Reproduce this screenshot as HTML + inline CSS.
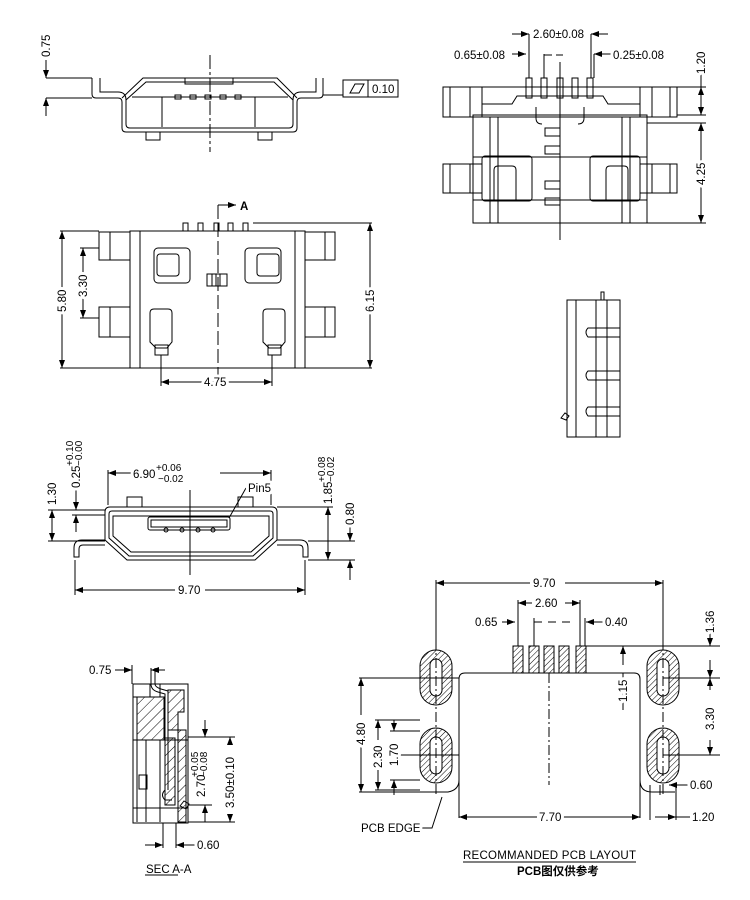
<!DOCTYPE html>
<html><head><meta charset="utf-8"><style>
html,body{margin:0;padding:0;background:#fff}
svg{display:block}
text{font-family:"Liberation Sans","Noto Sans CJK SC",sans-serif;font-size:11.5px;fill:#000;paint-order:stroke;stroke:#fff;stroke-width:6px;stroke-linejoin:round}
text.t{stroke-width:0;font-size:10px}
</style></head><body>
<svg width="750" height="900" viewBox="0 0 750 900" xmlns="http://www.w3.org/2000/svg">
<defs>
<pattern id="h" width="4" height="4" patternUnits="userSpaceOnUse" patternTransform="rotate(45)"><line x1="0" y1="0" x2="0" y2="4" stroke="#000" stroke-width="1"/></pattern>
<pattern id="h2" width="7" height="7" patternUnits="userSpaceOnUse" patternTransform="rotate(45)"><line x1="0" y1="0" x2="0" y2="7" stroke="#000" stroke-width="1"/></pattern>
<marker id="a" markerWidth="8" markerHeight="6" refX="8" refY="3" orient="auto" markerUnits="userSpaceOnUse"><path d="M0,0 L8,3 L0,6 z" fill="#000"/></marker>
</defs>
<g fill="none" stroke="#000" stroke-width="1">

<!-- VIEW 1 front top -->
<line x1="210" y1="55" x2="210" y2="152" stroke-dasharray="14,3,3,3"/>
<path d="M92,78 L92,94 Q92,98 96,98 L118,98 Q122,98 122,102 L122,128 Q122,132 126,132 L293,132 Q297,132 297,128 L297,102 Q297,98 301,98 L319,98 Q323,98 323,94 L323,78"/>
<path d="M100,78 L100,92 L118,92 Q126,92 126,100 L126,124 Q126,128 130,128 L289,128 Q293,128 293,124 L293,100 Q293,92 301,92 L316,92 L316,78"/>
<path d="M122,98 L143,78 L277,78 L297,98"/>
<path d="M126,100 L146,82 L274,82 L293,100"/>
<rect x="185" y="78" width="48" height="6"/>
<line x1="132" y1="97" x2="288" y2="97"/>
<line x1="162" y1="97" x2="162" y2="127"/><line x1="255" y1="97" x2="255" y2="127"/>
<rect x="175" y="95" width="6" height="4"/><rect x="190" y="95" width="6" height="4"/><rect x="205" y="95" width="6" height="4"/><rect x="220" y="95" width="6" height="4"/><rect x="235" y="95" width="6" height="4"/>
<rect x="146" y="132" width="14" height="8"/><rect x="258" y="132" width="14" height="8"/>
<line x1="46" y1="78" x2="92" y2="78"/><line x1="46" y1="98" x2="92" y2="98"/>
<line x1="46" y1="60" x2="46" y2="78" marker-end="url(#a)"/><line x1="46" y1="116" x2="46" y2="98" marker-end="url(#a)"/>
<line x1="323" y1="95" x2="343" y2="95"/>
<rect x="343" y="80" width="55" height="17"/><line x1="368" y1="80" x2="368" y2="97"/>
<path d="M350,93 L355,84 L364,84 L359,93 z"/>

<!-- VIEW 2 top view -->
<rect x="130" y="231" width="175" height="137"/>
<line x1="140" y1="231" x2="140" y2="368"/><line x1="295" y1="231" x2="295" y2="368"/>
<rect x="99" y="232" width="31" height="28"/><line x1="110" y1="232" x2="110" y2="260"/>
<rect x="99" y="307" width="31" height="30"/><line x1="110" y1="307" x2="110" y2="337"/>
<rect x="305" y="232" width="30" height="28"/><line x1="325" y1="232" x2="325" y2="260"/>
<rect x="305" y="307" width="30" height="30"/><line x1="325" y1="307" x2="325" y2="337"/>
<rect x="183" y="223" width="5" height="8"/><rect x="198" y="223" width="5" height="8"/><rect x="214" y="223" width="5" height="8"/><rect x="228" y="223" width="5" height="8"/><rect x="243" y="223" width="5" height="8"/>
<rect x="154" y="248" width="36" height="35" rx="4"/><rect x="157" y="254" width="22" height="22" rx="3"/>
<rect x="245" y="248" width="36" height="35" rx="4"/><rect x="257" y="254" width="22" height="22" rx="3"/>
<rect x="207" y="274" width="20" height="12"/><line x1="212" y1="274" x2="212" y2="286"/><line x1="216" y1="274" x2="216" y2="286"/><line x1="220" y1="274" x2="220" y2="286"/>
<path d="M150,342 L150,313 Q150,309 154,309 L168,309 Q172,309 172,313 L172,342 L167,348 L156,348 z"/><rect x="155" y="345" width="13" height="10"/>
<path d="M263,342 L263,313 Q263,309 267,309 L281,309 Q285,309 285,313 L285,342 L280,348 L269,348 z"/><rect x="268" y="345" width="13" height="10"/>
<line x1="218" y1="205" x2="218" y2="380" stroke-dasharray="14,4"/>
<line x1="218" y1="205" x2="236" y2="205" marker-end="url(#a)"/>
<line x1="60" y1="231" x2="99" y2="231"/><line x1="60" y1="368" x2="130" y2="368"/>
<line x1="62" y1="300" x2="62" y2="231" marker-end="url(#a)"/><line x1="62" y1="300" x2="62" y2="368" marker-end="url(#a)"/>
<line x1="80" y1="248" x2="99" y2="248"/><line x1="80" y1="318" x2="99" y2="318"/>
<line x1="83" y1="283" x2="83" y2="248" marker-end="url(#a)"/><line x1="83" y1="283" x2="83" y2="318" marker-end="url(#a)"/>
<line x1="253" y1="223" x2="372" y2="223"/><line x1="305" y1="368" x2="372" y2="368"/>
<line x1="370" y1="295" x2="370" y2="223" marker-end="url(#a)"/><line x1="370" y1="295" x2="370" y2="368" marker-end="url(#a)"/>
<line x1="161" y1="355" x2="161" y2="386"/><line x1="272" y1="355" x2="272" y2="386"/>
<line x1="216" y1="382" x2="161" y2="382" marker-end="url(#a)"/><line x1="216" y1="382" x2="272" y2="382" marker-end="url(#a)"/>

<!-- VIEW 3 top right -->
<rect x="473" y="115" width="174" height="108"/>
<path d="M482,115 L482,87 L640,87 L640,115"/>
<path d="M482,104 L512,104 L517,96 L603,96 L608,104 L640,104"/>
<rect x="443" y="87" width="39" height="30"/><line x1="450" y1="87" x2="450" y2="117"/><line x1="470" y1="87" x2="470" y2="117"/>
<rect x="443" y="164" width="39" height="29"/><line x1="450" y1="164" x2="450" y2="193"/><line x1="470" y1="164" x2="470" y2="193"/>
<rect x="640" y="87" width="37" height="30"/><line x1="670" y1="87" x2="670" y2="117"/><line x1="652" y1="87" x2="652" y2="117"/>
<rect x="640" y="164" width="37" height="29"/><line x1="670" y1="164" x2="670" y2="193"/><line x1="652" y1="164" x2="652" y2="193"/>
<line x1="482" y1="117" x2="640" y2="117"/>
<line x1="490" y1="117" x2="490" y2="223"/><line x1="498" y1="117" x2="498" y2="223"/><line x1="622" y1="117" x2="622" y2="223"/><line x1="630" y1="117" x2="630" y2="223"/>
<line x1="473" y1="157" x2="647" y2="157"/><line x1="473" y1="200" x2="647" y2="200"/>
<path d="M536,107 L536,118 Q536,124 542,124"/><path d="M584,107 L584,118 Q584,124 578,124"/>
<rect x="482" y="156" width="50" height="45" rx="3"/><path d="M494,200 L494,170 Q494,166 498,166 L512,166 Q516,166 516,170 L516,200"/>
<rect x="590" y="156" width="50" height="45" rx="3"/><path d="M606,200 L606,170 Q606,166 610,166 L624,166 Q628,166 628,170 L628,200"/>
<rect x="526" y="78" width="6" height="20"/><rect x="541" y="78" width="6" height="20"/><rect x="557" y="78" width="6" height="20"/><rect x="572" y="78" width="6" height="20"/><rect x="587" y="78" width="6" height="20"/>
<line x1="560" y1="62" x2="560" y2="240"/>
<path d="M545,128 h15 v8 h-15 z M545,146 h15 v8 h-15 z M545,181 h15 v8 h-15 z M545,198 h15 v7 h-15 z"/>
<line x1="529" y1="34" x2="529" y2="78"/><line x1="591" y1="34" x2="591" y2="78"/>
<line x1="512" y1="34" x2="529" y2="34" marker-end="url(#a)"/><line x1="608" y1="34" x2="591" y2="34" marker-end="url(#a)"/>
<line x1="512" y1="54" x2="526" y2="54" marker-end="url(#a)"/><line x1="544" y1="55" x2="563" y2="55" stroke-dasharray="8,4"/>
<line x1="544" y1="54" x2="544" y2="78"/><line x1="594" y1="54" x2="594" y2="78"/>
<line x1="612" y1="54" x2="594" y2="54" marker-end="url(#a)"/>
<line x1="677" y1="87" x2="706" y2="87"/><line x1="677" y1="115" x2="706" y2="115"/><line x1="647" y1="223" x2="706" y2="223"/><line x1="647" y1="123" x2="706" y2="123"/>
<line x1="701" y1="73" x2="701" y2="87"/><line x1="701" y1="100" x2="701" y2="87" marker-end="url(#a)"/><line x1="701" y1="100" x2="701" y2="115" marker-end="url(#a)"/>
<line x1="701" y1="173" x2="701" y2="123" marker-end="url(#a)"/><line x1="701" y1="173" x2="701" y2="223" marker-end="url(#a)"/>

<!-- VIEW 4 side -->
<rect x="567" y="300" width="53" height="137"/>
<line x1="576" y1="300" x2="576" y2="437"/><line x1="596" y1="300" x2="596" y2="437"/><line x1="607" y1="300" x2="607" y2="437"/>
<rect x="601" y="292" width="3" height="8"/>
<path d="M620,328 L588,328 Q584,332 588,337 L620,337"/>
<path d="M620,371 L588,371 Q584,375 588,380 L620,380"/>
<path d="M620,407 L588,407 Q584,411 588,416 L620,416"/>
<path d="M561,418 l4,-5 l4,3 l-3,4 z"/>

<!-- VIEW 5 front mid -->
<path d="M105,540 L105,512 Q105,507 110,507 L272,507 Q277,507 277,512 L277,540 L255,560 L127,560 z"/>
<path d="M109,538 L109,514 Q109,511 112,511 L270,511 Q273,511 273,514 L273,538 L253,556 L129,556 z"/>
<path d="M113,536 L113,516 L269,516 L269,536 L251,552 L131,552 z"/>
<rect x="148" y="517" width="82" height="13" rx="2"/><rect x="151" y="520" width="76" height="7"/>
<circle cx="166" cy="530" r="2"/><circle cx="182" cy="530" r="2"/><circle cx="198" cy="530" r="2"/><circle cx="213" cy="530" r="2"/>
<rect x="127" y="497" width="15" height="10"/><rect x="238" y="497" width="15" height="10"/>
<path d="M105,540 L82,540 Q74,540 74,548 L74,557 L79,557 L79,549 Q79,545 83,545 L105,545"/>
<path d="M277,540 L300,540 Q308,540 308,548 L308,557 L303,557 L303,549 Q303,545 299,545 L277,545"/>
<line x1="190" y1="490" x2="190" y2="575"/>
<line x1="108" y1="470" x2="108" y2="505"/><line x1="271" y1="470" x2="271" y2="505"/>
<line x1="132" y1="473" x2="108" y2="473" marker-end="url(#a)"/><line x1="220" y1="473" x2="271" y2="473" marker-end="url(#a)"/>
<line x1="246" y1="488" x2="229" y2="518"/>
<line x1="75" y1="560" x2="75" y2="595"/><line x1="305" y1="560" x2="305" y2="595"/>
<line x1="175" y1="590" x2="75" y2="590" marker-end="url(#a)"/><line x1="205" y1="590" x2="305" y2="590" marker-end="url(#a)"/>
<line x1="48" y1="510" x2="105" y2="510"/><line x1="48" y1="541" x2="105" y2="541"/><line x1="72" y1="515" x2="105" y2="515"/>
<line x1="52" y1="525" x2="52" y2="510" marker-end="url(#a)"/><line x1="52" y1="525" x2="52" y2="541" marker-end="url(#a)"/>
<line x1="76" y1="490" x2="76" y2="510" marker-end="url(#a)"/><line x1="76" y1="532" x2="76" y2="515" marker-end="url(#a)"/>
<line x1="277" y1="507" x2="333" y2="507"/><line x1="308" y1="560" x2="355" y2="560"/><line x1="308" y1="541" x2="355" y2="541"/>
<line x1="328" y1="530" x2="328" y2="507" marker-end="url(#a)"/><line x1="328" y1="530" x2="328" y2="560" marker-end="url(#a)"/>
<line x1="350" y1="515" x2="350" y2="541" marker-end="url(#a)"/><line x1="350" y1="580" x2="350" y2="560" marker-end="url(#a)"/>

<!-- VIEW 6 section -->
<rect x="133" y="684" width="55" height="139"/>
<path d="M137,697 L164,697 L164,740 L137,740 z" fill="url(#h2)"/>
<path d="M168,690 L184,690 L184,712 L178,712 L178,730 L168,730 z" fill="url(#h2)"/>
<path d="M178,730 L186,730 L186,822 L178,822 z" fill="url(#h2)"/>
<path d="M165,738 L175,738 L175,805 L165,805 z" fill="url(#h2)"/>
<path d="M133,697 L137,697 M133,740 L188,740 M133,808 L188,808 M150,684 L150,697 M160,684 L160,697 M146,740 L146,822 M160,740 L160,822 M137,697 L137,822"/>
<path d="M151,668 L151,684 Q151,690 158,692 L165,694 L165,790 Q160,795 165,800 L172,800"/>
<path d="M155,668 L155,684 Q155,687 161,689 L168,691 L168,790"/>
<rect x="139" y="775" width="8" height="14"/>
<path d="M180,806 l4,-5 l5,3 l-3,5 z"/>
<line x1="132" y1="665" x2="132" y2="684"/><line x1="115" y1="670" x2="132" y2="670" marker-end="url(#a)"/>
<line x1="165" y1="670" x2="151" y2="670" marker-end="url(#a)"/>
<line x1="188" y1="737" x2="235" y2="737"/><line x1="188" y1="822" x2="235" y2="822"/><line x1="188" y1="805" x2="212" y2="805"/>
<line x1="205" y1="720" x2="205" y2="737" marker-end="url(#a)"/><line x1="205" y1="822" x2="205" y2="805" marker-end="url(#a)"/>
<line x1="230" y1="745" x2="230" y2="737" marker-end="url(#a)"/><line x1="230" y1="815" x2="230" y2="822" marker-end="url(#a)"/>
<line x1="163" y1="823" x2="163" y2="848"/><line x1="176" y1="823" x2="176" y2="848"/>
<line x1="145" y1="845" x2="163" y2="845" marker-end="url(#a)"/><line x1="195" y1="845" x2="176" y2="845" marker-end="url(#a)"/>
<line x1="145" y1="875" x2="178" y2="875"/>

<!-- VIEW 7 PCB layout -->
<g fill="url(#h)">
<rect x="420" y="650" width="32" height="55" rx="16"/><rect x="420" y="728" width="32" height="55" rx="16"/>
<rect x="647" y="650" width="32" height="55" rx="16"/><rect x="647" y="728" width="32" height="55" rx="16"/>
<rect x="513" y="646" width="10" height="27"/><rect x="529" y="646" width="10" height="27"/><rect x="544" y="646" width="10" height="27"/><rect x="559" y="646" width="10" height="27"/><rect x="576" y="646" width="10" height="27"/>
</g>
<g fill="#fff"><rect x="430" y="659" width="12" height="37" rx="6"/><rect x="430" y="737" width="12" height="37" rx="6"/><rect x="657" y="659" width="12" height="37" rx="6"/><rect x="657" y="737" width="12" height="37" rx="6"/></g>
<path d="M459,818 L459,679 Q459,673 465,673 L634,673 Q640,673 640,679 L640,818"/>
<path d="M360,792 L448,792 Q459,790 459,780"/><path d="M640,780 Q640,792 652,792 L675,792"/>
<line x1="436" y1="640" x2="436" y2="795" stroke-dasharray="10,3,2,3"/><line x1="663" y1="640" x2="663" y2="795" stroke-dasharray="10,3,2,3"/>
<line x1="549" y1="673" x2="549" y2="785" stroke-dasharray="10,3,2,3"/>
<line x1="436" y1="580" x2="436" y2="640"/><line x1="663" y1="580" x2="663" y2="640"/>
<line x1="530" y1="583" x2="436" y2="583" marker-end="url(#a)"/><line x1="565" y1="583" x2="663" y2="583" marker-end="url(#a)"/>
<line x1="518" y1="600" x2="518" y2="646"/><line x1="580" y1="600" x2="580" y2="646"/>
<line x1="532" y1="603" x2="518" y2="603" marker-end="url(#a)"/><line x1="565" y1="603" x2="580" y2="603" marker-end="url(#a)"/>
<line x1="502" y1="622" x2="515" y2="622" marker-end="url(#a)"/><line x1="534" y1="622" x2="571" y2="622" stroke-dasharray="8,6"/>
<line x1="534" y1="618" x2="534" y2="646"/><line x1="585" y1="618" x2="585" y2="646"/>
<line x1="603" y1="622" x2="586" y2="622" marker-end="url(#a)"/>
<line x1="586" y1="646" x2="720" y2="646"/><line x1="663" y1="678" x2="720" y2="678"/><line x1="663" y1="755" x2="720" y2="755"/>
<line x1="710" y1="612" x2="710" y2="646" marker-end="url(#a)"/><line x1="710" y1="660" x2="710" y2="678" marker-end="url(#a)"/>
<line x1="710" y1="690" x2="710" y2="678" marker-end="url(#a)"/><line x1="710" y1="740" x2="710" y2="755" marker-end="url(#a)"/>
<line x1="623" y1="665" x2="623" y2="646" marker-end="url(#a)"/><line x1="623" y1="710" x2="623" y2="673"/>
<line x1="359" y1="678" x2="459" y2="678"/><line x1="359" y1="792" x2="436" y2="792"/>
<line x1="361" y1="715" x2="361" y2="678" marker-end="url(#a)"/><line x1="361" y1="745" x2="361" y2="792" marker-end="url(#a)"/>
<line x1="375" y1="720" x2="420" y2="720"/><line x1="375" y1="790" x2="420" y2="790"/><line x1="390" y1="731" x2="420" y2="731"/><line x1="390" y1="780" x2="420" y2="780"/><line x1="392" y1="755" x2="459" y2="755"/>
<line x1="378" y1="740" x2="378" y2="720" marker-end="url(#a)"/><line x1="378" y1="770" x2="378" y2="790" marker-end="url(#a)"/>
<line x1="394" y1="720" x2="394" y2="731" marker-end="url(#a)"/><line x1="394" y1="795" x2="394" y2="780" marker-end="url(#a)"/>
<line x1="650" y1="785" x2="650" y2="820"/><line x1="660" y1="785" x2="660" y2="795"/><line x1="676" y1="785" x2="676" y2="820"/>
<line x1="688" y1="785" x2="669" y2="785" marker-end="url(#a)"/>
<line x1="655" y1="817" x2="676" y2="817" marker-end="url(#a)"/><line x1="690" y1="817" x2="676" y2="817"/>
<line x1="537" y1="817" x2="459" y2="817" marker-end="url(#a)"/><line x1="562" y1="817" x2="640" y2="817" marker-end="url(#a)"/>
<path d="M418,828 L432,828 L442,797"/>
<line x1="463" y1="862" x2="636" y2="862"/>
</g>

<!-- TEXT -->
<text transform="translate(50,57) rotate(-90)">0.75</text>
<text x="372" y="93">0.10</text>
<text x="240" y="210" font-weight="bold" font-size="10">A</text>
<text transform="translate(66,312) rotate(-90)">5.80</text>
<text transform="translate(87,297) rotate(-90)">3.30</text>
<text transform="translate(374,312) rotate(-90)">6.15</text>
<text x="204" y="386">4.75</text>
<text x="533" y="38">2.60±0.08</text>
<text x="454" y="59">0.65±0.08</text>
<text x="613" y="59">0.25±0.08</text>
<text transform="translate(705,74) rotate(-90)">1.20</text>
<text transform="translate(705,185) rotate(-90)">4.25</text>
<text x="133" y="478">6.90</text><text class="t" x="156" y="471">+0.06</text><text class="t" x="158" y="482">−0.02</text>
<text x="248" y="492">Pin5</text>
<text x="178" y="594">9.70</text>
<text transform="translate(56,505) rotate(-90)">1.30</text>
<text transform="translate(80,488) rotate(-90)" font-size="10">0.25</text>
<text class="t" transform="translate(73,466) rotate(-90)">+0.10</text>
<text class="t" transform="translate(82,466) rotate(-90)">−0.00</text>
<text transform="translate(332,504) rotate(-90)" font-size="10">1.85</text>
<text class="t" transform="translate(325,482) rotate(-90)">+0.08</text>
<text class="t" transform="translate(334,482) rotate(-90)">−0.02</text>
<text transform="translate(354,525) rotate(-90)">0.80</text>
<text x="89" y="674">0.75</text>
<text transform="translate(205,797) rotate(-90)" font-size="10">2.70</text>
<text class="t" transform="translate(198,777) rotate(-90)">+0.05</text>
<text class="t" transform="translate(207,777) rotate(-90)">−0.08</text>
<text transform="translate(234,808) rotate(-90)">3.50±0.10</text>
<text x="197" y="849">0.60</text>
<text x="146" y="873" font-size="8" style="stroke-width:0">SEC A-A</text>
<text x="533" y="587">9.70</text>
<text x="535" y="607">2.60</text>
<text x="475" y="626">0.65</text>
<text x="605" y="626">0.40</text>
<text transform="translate(714,633) rotate(-90)">1.36</text>
<text transform="translate(714,730) rotate(-90)">3.30</text>
<text transform="translate(627,702) rotate(-90)">1.15</text>
<text transform="translate(365,745) rotate(-90)">4.80</text>
<text transform="translate(382,768) rotate(-90)">2.30</text>
<text transform="translate(398,766) rotate(-90)">1.70</text>
<text x="690" y="789">0.60</text>
<text x="692" y="821">1.20</text>
<text x="539" y="821">7.70</text>
<text x="361" y="832">PCB EDGE</text>
<text x="463" y="859" font-size="12" textLength="173" style="stroke-width:0">RECOMMANDED PCB LAYOUT</text>
<text x="517" y="875" font-size="10" font-weight="bold" style="stroke-width:0">PCB图仅供参考</text>
</svg>
</body></html>
